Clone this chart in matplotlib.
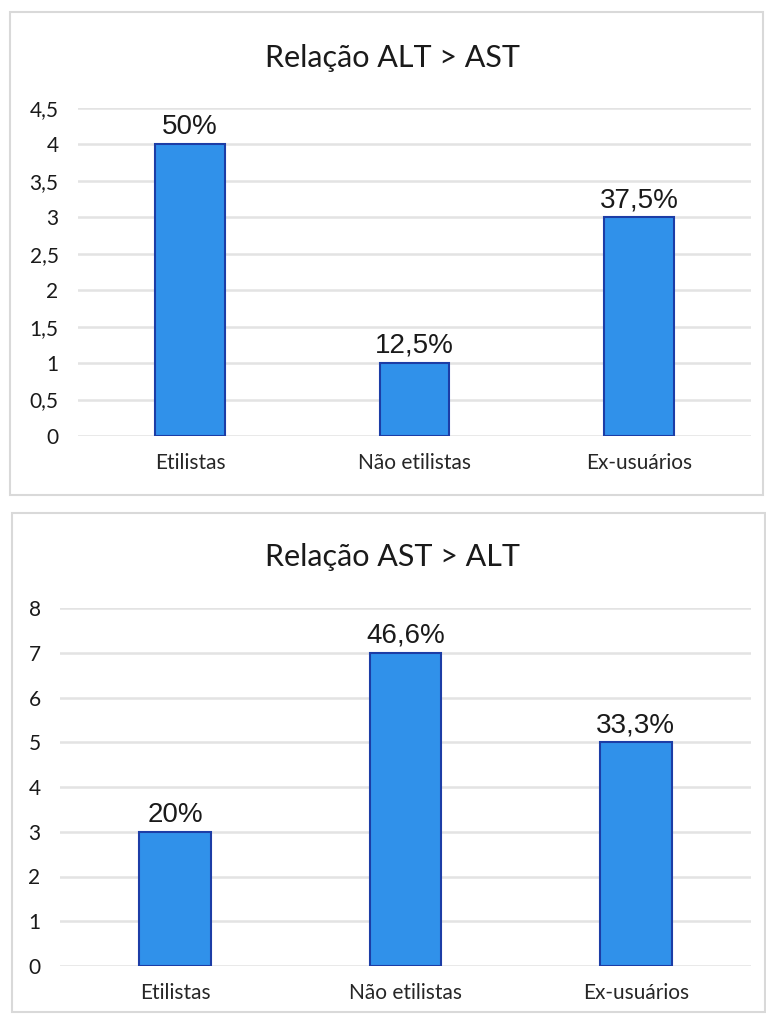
import matplotlib.pyplot as plt
from matplotlib.patches import Rectangle
from matplotlib.ticker import FuncFormatter

# Data
categorias = ['Etilistas', 'Não etilistas', 'Ex-usuários']

alt_ast_valores = [4, 1, 3]
alt_ast_rotulos = ['50%', '12,5%', '37,5%']
alt_ast_titulo = 'Relação ALT > AST'
alt_ast_ticks = [0, 0.5, 1, 1.5, 2, 2.5, 3, 3.5, 4, 4.5]

ast_alt_valores = [3, 7, 5]
ast_alt_rotulos = ['20%', '46,6%', '33,3%']
ast_alt_titulo = 'Relação AST > ALT'
ast_alt_ticks = [0, 1, 2, 3, 4, 5, 6, 7, 8]

W, H = 766, 1017
fig = plt.figure(figsize=(W / 100, H / 100), dpi=100)

cor_barra = '#3091EA'
cor_borda = '#1C3DA6'
cor_grade = '#E3E3E3'


def fx(px):
    return px / W


def fy(py):
    return 1 - py / H


# Chart boxes
for (x0, y0, x1, y1) in [(10, 12, 763, 495), (12, 513, 765, 1012)]:
    fig.patches.append(Rectangle((fx(x0), fy(y1)), fx(x1) - fx(x0), fy(y0) - fy(y1),
                                 transform=fig.transFigure, fill=False,
                                 edgecolor='#D9D9D9', linewidth=1.5))


def desenha(ax, valores, rotulos, titulo, ticks, title_y):
    x = range(len(categorias))
    ax.bar(x, valores, width=0.31, color=cor_barra, edgecolor=cor_borda,
           linewidth=1.5, zorder=3)
    for xi, v, r in zip(x, valores, rotulos):
        ax.annotate(r, (xi, v), xytext=(0, 3), textcoords='offset points',
                    ha='center', va='bottom', fontsize=20,
                    family='Liberation Sans', color='#1a1a1a')
    ax.set_xlim(-0.5, 2.5)
    ax.set_ylim(0, ticks[-1])
    ax.set_yticks(ticks)
    ax.yaxis.set_major_formatter(FuncFormatter(
        lambda v, p: ('%g' % v).replace('.', ',')))
    ax.set_xticks(list(x))
    ax.set_xticklabels(categorias, fontsize=15, family='Lato', color='#262626')
    for lbl in ax.get_yticklabels():
        lbl.set_fontsize(15)
        lbl.set_family('Lato')
        lbl.set_color('#1a1a1a')
    ax.tick_params(axis='both', length=0)
    ax.tick_params(axis='y', pad=14)
    ax.tick_params(axis='x', pad=12)
    ax.yaxis.grid(True, color=cor_grade, linewidth=1.8, zorder=0)
    ax.set_axisbelow(True)
    for s in ax.spines.values():
        s.set_visible(False)
    fig.text(fx(393), fy(title_y), titulo, ha='center', va='center',
             fontsize=22, family='Lato', color='#1a1a1a')


ax1 = fig.add_axes([fx(78), fy(436), fx(751) - fx(78), fy(108) - fy(436)])
desenha(ax1, alt_ast_valores, alt_ast_rotulos, alt_ast_titulo, alt_ast_ticks, 58)

ax2 = fig.add_axes([fx(60), fy(966), fx(751) - fx(60), fy(608) - fy(966)])
desenha(ax2, ast_alt_valores, ast_alt_rotulos, ast_alt_titulo, ast_alt_ticks, 557)

plt.savefig('out.png', dpi=100)
